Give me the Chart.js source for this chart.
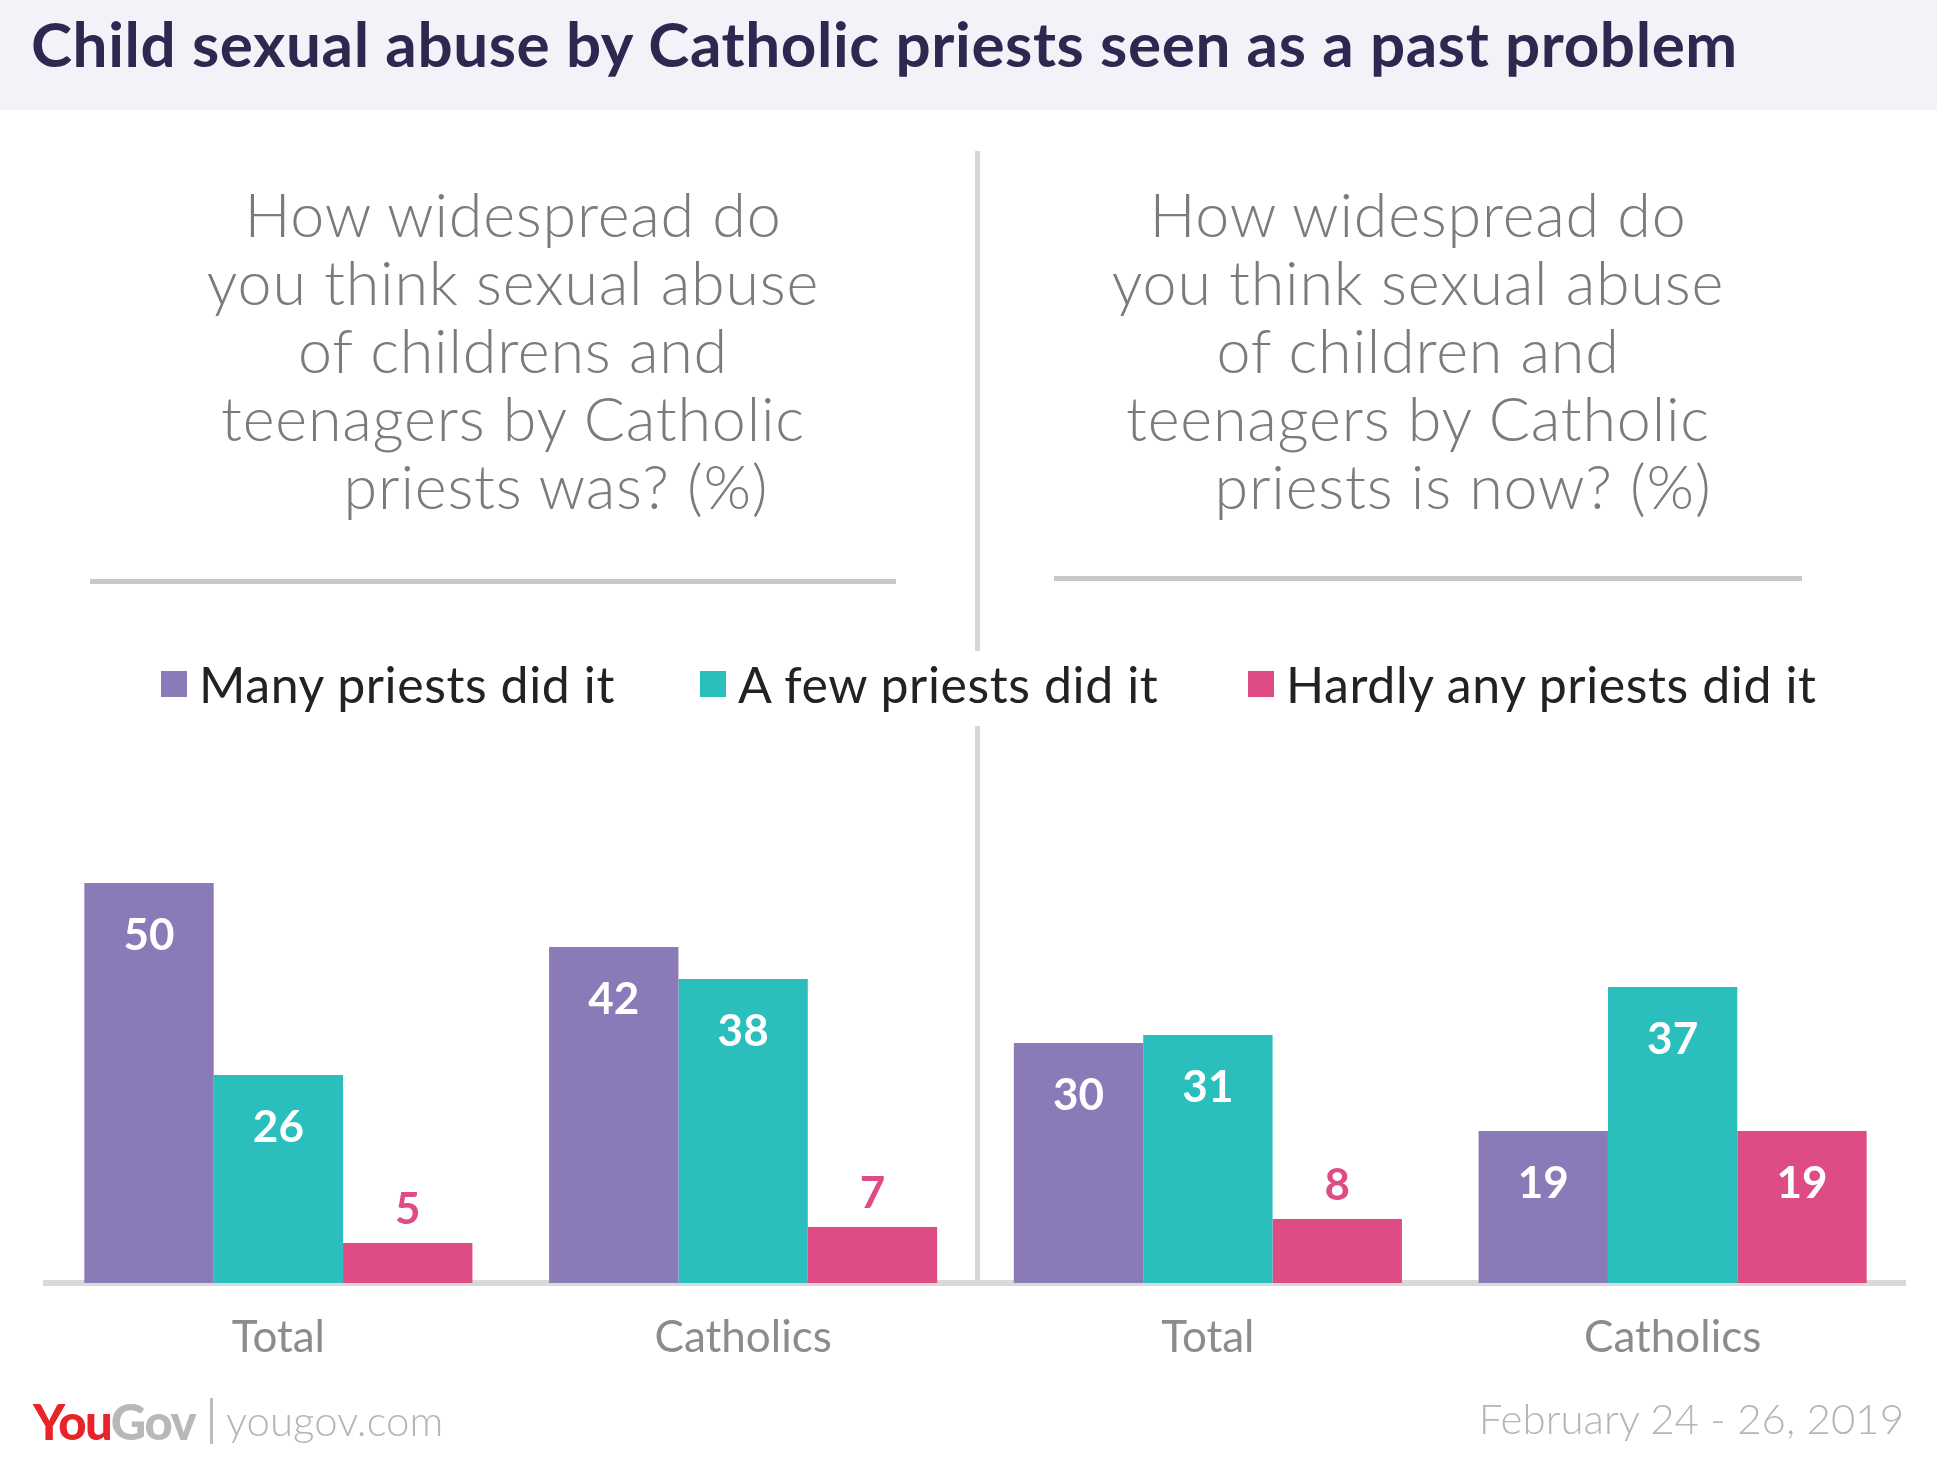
<!DOCTYPE html>
<html>
<head>
<meta charset="utf-8">
<script src="https://cdn.jsdelivr.net/npm/chart.js@4.4.0/dist/chart.umd.min.js"></script>
<style>
  body { margin: 0; background: #fff; font-family: Lato, "Open Sans", sans-serif; }
  #page { position: relative; width: 1937px; height: 1457px; overflow: hidden; }
  #band { position: absolute; left: 0; top: 0; width: 1937px; height: 110px; background: #f3f2f8; }
  #title { position: absolute; left: 31px; top: 6px; font-size: 62px; font-weight: 700; letter-spacing: 0.6px; color: #2e2850; white-space: nowrap; line-height: 74px; }
  .question { position: absolute; width: 1000px; text-align: center; font-size: 61px; letter-spacing: 0.8px; line-height: 68px; color: #7b7b7b; font-weight: 300; }
  .question .last { display: inline-block; }
  .rule { position: absolute; height: 5px; background: #c8c8c8; }
  .divider { position: absolute; width: 5px; background: #d6d6d6; left: 975px; }
  #legend { position: absolute; top: 656px; left: 0; width: 1937px; height: 56px; }
  .item { position: absolute; top: 0; height: 56px; display: flex; align-items: center; font-size: 50px; letter-spacing: 0.6px; color: #222; white-space: nowrap; }
  .item span.box { display: inline-block; width: 26px; height: 26px; margin-right: 12px; }
  #chart { position: absolute; left: 0; top: 0; }
  #logo { position: absolute; left: 33px; top: 1394px; font-size: 49px; font-weight: 900; letter-spacing: -1.5px; line-height: 54px; }
  #logo .you { color: #e8242a; }
  #logo .gov { color: #b8b8b8; }
  #sep { position: absolute; left: 210px; top: 1398px; width: 3px; height: 46px; background: #bdbdbd; }
  #site { position: absolute; left: 226px; top: 1394px; font-size: 42px; color: #b5b5b5; line-height: 52px; font-weight: 300; }
  #date { position: absolute; right: 33px; top: 1392px; font-size: 42px; color: #b5b5b5; line-height: 52px; font-weight: 300; }
</style>
</head>
<body>
<div id="page">
  <div id="band"></div>
  <div id="title">Child sexual abuse by Catholic priests seen as a past problem</div>

  <div class="question" style="left:13px; top:180px;">How widespread do<br>you think sexual abuse<br>of childrens and<br>teenagers by Catholic<br><span class="last" style="padding-left:86px;">priests was? (%)</span></div>
  <div class="question" style="left:918px; top:180px;">How widespread do<br>you think sexual abuse<br>of children and<br>teenagers by Catholic<br><span class="last" style="padding-left:90px;">priests is now? (%)</span></div>

  <div class="rule" style="left:90px; width:806px; top:579px;"></div>
  <div class="rule" style="left:1054px; width:748px; top:576px;"></div>

  <div class="divider" style="top:151px; height:500px;"></div>
  <div class="divider" style="top:726px; height:559px;"></div>

  <div id="legend"></div>

  <canvas id="chart" width="1937" height="1457"></canvas>

  <div id="logo"><span class="you">You</span><span class="gov">Gov</span></div>
  <div id="sep"></div>
  <div id="site">yougov.com</div>
  <div id="date">February 24 - 26, 2019</div>
</div>

<script>
// Data
const categories = ['Total', 'Catholics', 'Total', 'Catholics'];
const seriesNames = ['Many priests did it', 'A few priests did it', 'Hardly any priests did it'];
const manyValues = [50, 42, 30, 19];
const fewValues = [26, 38, 31, 37];
const hardlyValues = [5, 7, 8, 19];
const seriesColors = ['#8a7ab8', '#2abfbd', '#dd4c84'];

// Legend (positions picked to match the reference)
const legendLefts = [161, 700, 1248];
const legendEl = document.getElementById('legend');
seriesNames.forEach((name, i) => {
    const div = document.createElement('div');
    div.className = 'item';
    div.style.left = legendLefts[i] + 'px';
    div.innerHTML = `<span class="box" style="background:${seriesColors[i]}"></span>${name}`;
    legendEl.appendChild(div);
});

// Value labels on the bars
const valueLabels = {
    id: 'valueLabels',
    afterDatasetsDraw(chart) {
        const ctx = chart.ctx;
        ctx.save();
        ctx.font = 'bold 44px Lato, sans-serif';
        ctx.textAlign = 'center';
        ctx.textBaseline = 'middle';
        chart.data.datasets.forEach((ds, di) => {
            const meta = chart.getDatasetMeta(di);
            meta.data.forEach((bar, i) => {
                const v = ds.data[i];
                if (v >= 15) {
                    ctx.fillStyle = '#ffffff';
                    ctx.fillText(v, bar.x, bar.y + 53);
                } else {
                    ctx.fillStyle = seriesColors[di];
                    ctx.fillText(v, bar.x, bar.y - 33);
                }
            });
        });
        ctx.restore();
    }
};

new Chart(document.getElementById('chart'), {
    type: 'bar',
    data: {
        labels: categories,
        datasets: [
            { label: seriesNames[0], data: manyValues, backgroundColor: seriesColors[0] },
            { label: seriesNames[1], data: fewValues, backgroundColor: seriesColors[1] },
            { label: seriesNames[2], data: hardlyValues, backgroundColor: seriesColors[2] }
        ]
    },
    options: {
        responsive: false,
        animation: false,
        layout: { padding: { left: 46, right: 32, top: 803, bottom: 0 } },
        datasets: { bar: { categoryPercentage: 0.835, barPercentage: 1.0 } },
        plugins: { legend: { display: false }, tooltip: { enabled: false } },
        scales: {
            x: {
                grid: { display: false, drawTicks: false },
                border: { display: true, color: '#d9d9d9', width: 6 },
                ticks: { color: '#8c8c8c', font: { family: 'Lato', size: 44 }, padding: 28 },
                afterFit(scale) { scale.height = 174; }
            },
            y: {
                display: false,
                min: 0,
                max: 60
            }
        }
    },
    plugins: [valueLabels]
});
</script>
</body>
</html>
